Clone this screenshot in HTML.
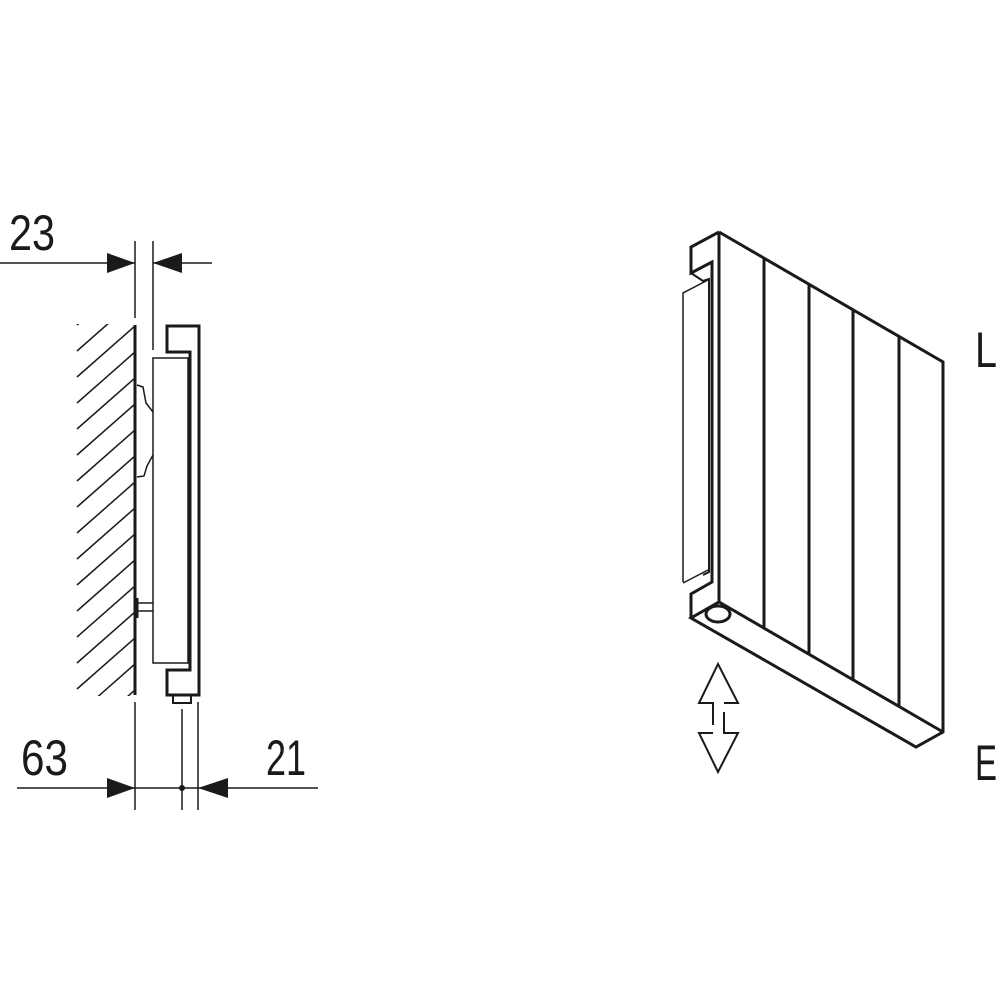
<!DOCTYPE html>
<html><head><meta charset="utf-8"><style>body{margin:0;background:#fff}svg{display:block}</style></head><body>
<svg width="1000" height="1000" viewBox="0 0 1000 1000" xmlns="http://www.w3.org/2000/svg">
<defs><clipPath id="hc"><rect x="76" y="324" width="59" height="372"/></clipPath></defs>
<rect width="1000" height="1000" fill="#fff"/>
<g font-family="Liberation Sans, sans-serif" font-size="50" fill="#1a1a1a">
<text x="9" y="250" textLength="46" lengthAdjust="spacingAndGlyphs">23</text>
<text x="21" y="775" textLength="47" lengthAdjust="spacingAndGlyphs">63</text>
<text x="266" y="775" textLength="40" lengthAdjust="spacingAndGlyphs">21</text>
<text x="975" y="367" textLength="22" lengthAdjust="spacingAndGlyphs">L</text>
<text x="975" y="780" textLength="22" lengthAdjust="spacingAndGlyphs">E</text>
</g>
<g stroke="#1a1a1a" fill="none" stroke-width="1.5">
<line x1="0" y1="263" x2="135" y2="263"/><line x1="153" y1="263" x2="212" y2="263"/>
<line x1="135" y1="241" x2="135" y2="318"/><line x1="153" y1="241" x2="153" y2="350"/>
<line x1="17" y1="788" x2="318" y2="788"/>
<line x1="135" y1="702" x2="135" y2="810"/><line x1="182" y1="709" x2="182" y2="810"/><line x1="198" y1="702" x2="198" y2="810"/>
<g clip-path="url(#hc)">
<line x1="135" y1="274" x2="77" y2="325"/><line x1="135" y1="300" x2="77" y2="351"/><line x1="135" y1="326" x2="77" y2="377"/><line x1="135" y1="352" x2="77" y2="403"/><line x1="135" y1="378" x2="77" y2="429"/><line x1="135" y1="404" x2="77" y2="455"/><line x1="135" y1="430" x2="77" y2="481"/><line x1="135" y1="456" x2="77" y2="507"/><line x1="135" y1="482" x2="77" y2="533"/><line x1="135" y1="508" x2="77" y2="559"/><line x1="135" y1="534" x2="77" y2="585"/><line x1="135" y1="560" x2="77" y2="611"/><line x1="135" y1="586" x2="77" y2="637"/><line x1="135" y1="612" x2="77" y2="663"/><line x1="135" y1="638" x2="77" y2="689"/><line x1="135" y1="664" x2="77" y2="715"/><line x1="135" y1="690" x2="77" y2="741"/>
</g>
<rect x="153" y="358" width="35" height="305"/>
<path d="M137 385 L143 387 L146 403 L153 412 M153 455 L147 466 L144 476 L137 477"/>
<line x1="137" y1="603" x2="153" y2="603"/><line x1="137" y1="611" x2="153" y2="611"/>
<path d="M683 582 L683 293 L708 280 M683 583 L708 570"/>
</g>
<g stroke="#1a1a1a" fill="none" stroke-width="3" stroke-linejoin="miter">
<line x1="135" y1="325" x2="135" y2="695"/>
<line x1="137" y1="598" x2="137" y2="618"/>
<path d="M190 670 L190 352 L167 352 L167 326 L199 326 L199 695 L167 695 L167 670 Z"/>
<rect x="173" y="695" width="18" height="8" stroke-width="2"/>
<path d="M719 232 L943 362 L943 732 L916 747 L691 618 L719 602 L943 732"/>
<line x1="719" y1="232" x2="719" y2="602"/>
<path d="M719 232 L691 247 L691 273 L712 262 L712 582 L691 594 L691 618"/>
<line x1="764" y1="259" x2="764" y2="628"/><line x1="809" y1="285" x2="809" y2="654"/><line x1="853" y1="310" x2="853" y2="680"/><line x1="899" y1="337" x2="899" y2="706"/>
<ellipse cx="718" cy="614" rx="12" ry="8"/>
</g>
<g stroke="#1a1a1a" fill="none" stroke-width="2">
<path d="M691 273 L703 281 L709 279 L709 572 L703 575"/>
<path d="M713 725 L713 703 L699 703 L718 664 L738 703 L724 703"/>
<path d="M724 712 L724 733 L738 733 L718 772 L699 733 L713 733"/>
</g>
<g fill="#1a1a1a">
<polygon points="135,263 107,253 107,273"/>
<polygon points="153,263 182,253 182,273"/>
<polygon points="135,788 107,778 107,798"/>
<polygon points="198,788 228,778 228,798"/>
<circle cx="182" cy="788" r="3"/>
</g>
</svg>
</body></html>
